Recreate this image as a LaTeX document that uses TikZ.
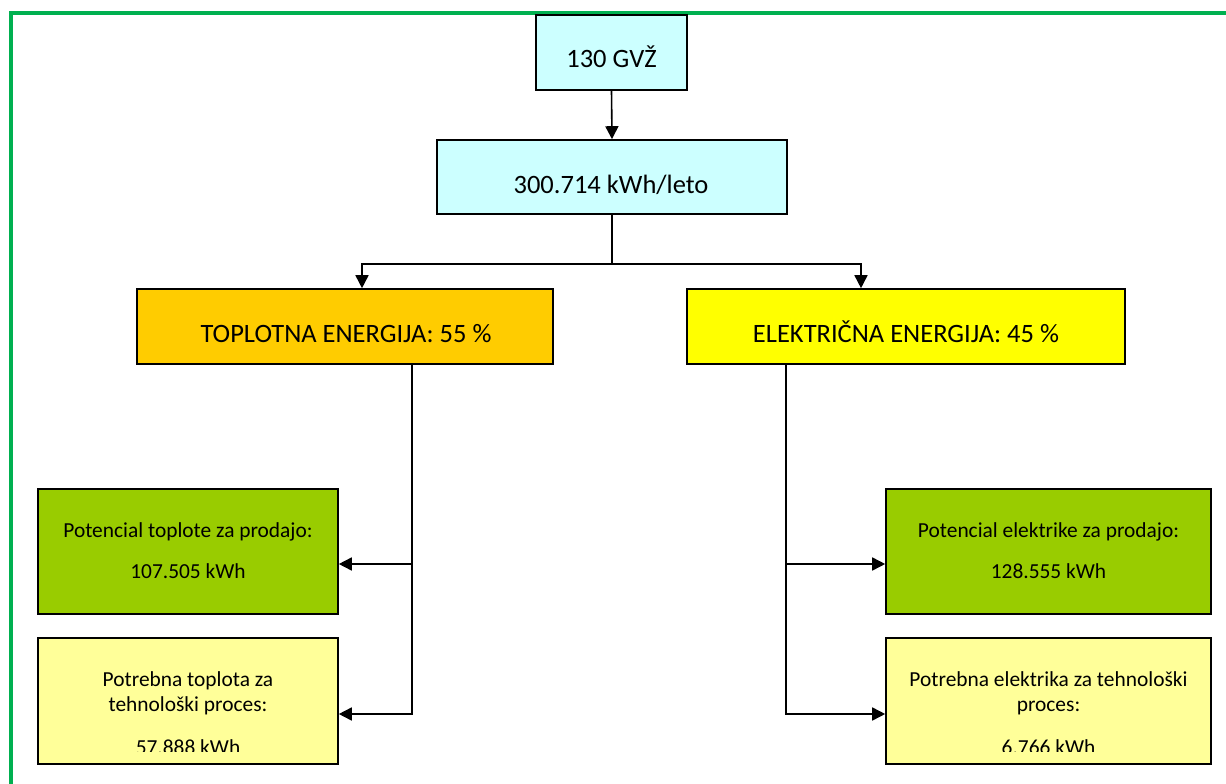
\documentclass[tikz,border=0pt]{standalone}
\usepackage{fontspec}
\setmainfont{Carlito}
\usetikzlibrary{arrows.meta,positioning}
\definecolor{frameg}{HTML}{00B050}
\definecolor{cyanbox}{HTML}{CCFFFF}
\definecolor{orangebox}{HTML}{FFCC00}
\definecolor{yellowbox}{HTML}{FFFF00}
\definecolor{greenbox}{HTML}{99CC00}
\definecolor{paleybox}{HTML}{FFFF99}
\tikzset{
  box/.style={draw=black, line width=1.6pt, inner sep=0pt},
  bigtxt/.style={font=\fontsize{26.5}{32}\selectfont, inner sep=0pt, anchor=base},
  smalltxt/.style={font=\fontsize{21.4}{26}\selectfont, inner sep=0pt, anchor=base},
  conn/.style={line width=1.6pt},
  arr/.style={conn, -{Triangle[length=13pt,width=13pt]}},
}
\begin{document}
\begin{tikzpicture}[x=1pt,y=-1pt]
\useasboundingbox (0,0) rectangle (1226,784);
% frame
\draw[frameg, line width=4pt] (11,784) -- (11,13) -- (1226,13);
% boxes
\node[box, fill=cyanbox, minimum width=151pt, minimum height=75pt] (gvz) at (611.5,52.5) {};
\node[box, fill=cyanbox, minimum width=350pt, minimum height=74pt] (leto) at (612,177) {};
\node[box, fill=orangebox, minimum width=416pt, minimum height=75pt] (top) at (345,326.5) {};
\node[box, fill=yellowbox, minimum width=438pt, minimum height=75pt] (ele) at (906,326.5) {};
\node[box, fill=greenbox, minimum width=300pt, minimum height=125pt] (tp1) at (188,551.5) {};
\node[box, fill=greenbox, minimum width=325pt, minimum height=125pt] (ep1) at (1048.5,551.5) {};
\node[box, fill=paleybox, minimum width=300pt, minimum height=126pt] (tp2) at (188,701) {};
\node[box, fill=paleybox, minimum width=325pt, minimum height=126pt] (ep2) at (1048.5,701) {};
% texts
\node[bigtxt] (gvzt) at (611.5,67) {130 GVŽ};
\node[bigtxt] (letot) at (611,193) {300.714 kWh/leto};
\node[bigtxt] (topt) at (346,342) {TOPLOTNA ENERGIJA: 55 \%};
\node[bigtxt] (elet) at (906,342) {ELEKTRIČNA ENERGIJA: 45 \%};
\node[smalltxt] (tp1a) at (188,537) {Potencial toplote za prodajo:};
\node[smalltxt] (tp1b) at (188,578) {107.505 kWh};
\node[smalltxt] (ep1a) at (1048.5,537) {Potencial elektrike za prodajo:};
\node[smalltxt] (ep1b) at (1048.5,578) {128.555 kWh};
\node[smalltxt] (tp2a) at (188,686) {Potrebna toplota za};
\node[smalltxt] (tp2b) at (188,711) {tehnološki proces:};
\node[smalltxt] (ep2a) at (1048.5,686) {Potrebna elektrika za tehnološki};
\node[smalltxt] (ep2b) at (1048.5,711) {proces:};
\begin{scope}
\clip (tp2.north west) rectangle (338,751);
\node[smalltxt] (tp2c) at (188,754) {57.888 kWh};
\end{scope}
\begin{scope}
\clip (ep2.north west) rectangle (1211,751);
\node[smalltxt] (ep2c) at (1048.5,754) {6.766 kWh};
\end{scope}
% connectors
\draw[arr] (gvz.south) -- (leto.north);
\coordinate (j) at (612,264);
\draw[conn] (leto.south) -- (j);
\draw[arr] (j) -| ([xshift=17pt]top.north);
\draw[arr] (j) -| ([xshift=-45pt]ele.north);
\coordinate (ls) at ([xshift=67pt]top.south);
\coordinate (le1) at ([yshift=-12.5pt]tp1.east);
\coordinate (le2) at ([yshift=-13pt]tp2.east);
\draw[arr] (ls) |- (le2);
\draw[arr] (ls |- le1) -- (le1);
\coordinate (rs) at ([xshift=-120pt]ele.south);
\coordinate (re1) at ([yshift=-12.5pt]ep1.west);
\coordinate (re2) at ([yshift=-13pt]ep2.west);
\draw[arr] (rs) |- (re2);
\draw[arr] (rs |- re1) -- (re1);
\end{tikzpicture}
\end{document}
